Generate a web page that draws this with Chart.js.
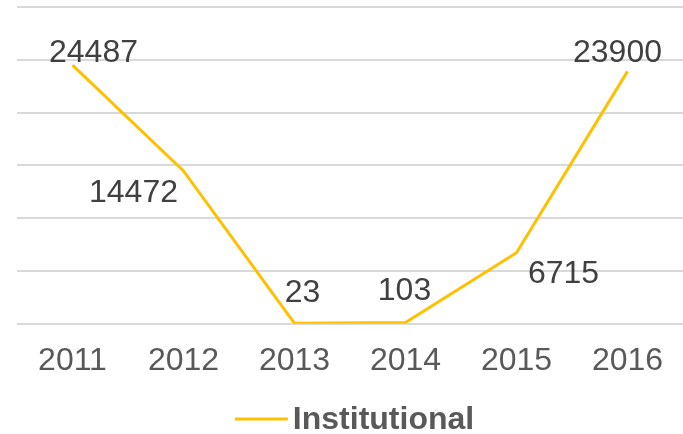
<!DOCTYPE html>
<html>
<head>
<meta charset="utf-8">
<script src="https://cdn.jsdelivr.net/npm/chart.js@4/dist/chart.umd.min.js"></script>
<style>
    html, body { margin: 0; padding: 0; background: #ffffff; }
    #wrap { width: 683px; height: 434px; position: relative; }
</style>
</head>
<body>
<div id="wrap"><canvas id="chartCanvas"></canvas></div>
<script>
// ---------- Data ----------
const years = ["2011", "2012", "2013", "2014", "2015", "2016"];
const institutional = [24487, 14472, 23, 103, 6715, 23900];
const seriesName = "Institutional";

// where each value label sits relative to its point (dx, baseline dy)
const labelOffsets = [[21, -3], [-50, 31], [8, -21], [-1, -23], [47, 30], [-10, -9]];

const LINE_COLOR = "#FFC000";
const FONT = "'Liberation Sans', Arial, sans-serif";

// ---------- Value labels ----------
const valueLabels = {
    id: "valueLabels",
    afterDatasetsDraw(chart) {
        const ctx = chart.ctx;
        const meta = chart.getDatasetMeta(0);
        ctx.save();
        ctx.font = "32px " + FONT;
        ctx.fillStyle = "#404040";
        ctx.textAlign = "center";
        ctx.textBaseline = "alphabetic";
        meta.data.forEach((pt, i) => {
            const off = labelOffsets[i];
            ctx.fillText(String(institutional[i]), pt.x + off[0], pt.y + off[1]);
        });
        ctx.restore();
    }
};

// ---------- Legend (line + bold name) ----------
const bottomLegend = {
    id: "bottomLegend",
    afterDraw(chart) {
        const ctx = chart.ctx;
        const ds = chart.data.datasets[0];
        ctx.save();
        ctx.font = "bold 32px " + FONT;
        const textW = ctx.measureText(ds.label).width;
        const lineW = 53, gap = 5;
        const total = lineW + gap + textW;
        const x0 = (chart.width - total) / 2 + 13;
        const y = chart.height - 15;
        ctx.strokeStyle = ds.borderColor;
        ctx.lineWidth = 3;
        ctx.beginPath();
        ctx.moveTo(x0, y);
        ctx.lineTo(x0 + lineW, y);
        ctx.stroke();
        ctx.fillStyle = "#595959";
        ctx.textAlign = "left";
        ctx.textBaseline = "middle";
        ctx.fillText(ds.label, x0 + lineW + gap, y + 1);
        ctx.restore();
    }
};

// ---------- Chart ----------
const ctx = document.getElementById("chartCanvas").getContext("2d");
new Chart(ctx, {
    type: "line",
    data: {
        labels: years,
        datasets: [{
            label: seriesName,
            data: institutional,
            borderColor: LINE_COLOR,
            backgroundColor: LINE_COLOR,
            borderWidth: 3,
            pointRadius: 0,
            tension: 0,
            fill: false
        }]
    },
    options: {
        responsive: true,
        maintainAspectRatio: false,
        animation: false,
        layout: { padding: { left: 17, right: 0, top: 7, bottom: 36 } },
        plugins: {
            legend: { display: false },
            tooltip: { enabled: false }
        },
        scales: {
            x: {
                offset: true,
                grid: { display: false, drawTicks: false },
                border: { display: false },
                ticks: {
                    color: "#595959",
                    font: { family: FONT, size: 32 },
                    padding: 18,
                    maxRotation: 0
                }
            },
            y: {
                min: 0,
                max: 30000,
                ticks: { display: false, stepSize: 5000 },
                grid: { color: "#d9d9d9", lineWidth: 2, drawTicks: false },
                border: { display: false },
                afterFit(scale) { scale.width = 0; }
            }
        }
    },
    plugins: [valueLabels, bottomLegend]
});
</script>
</body>
</html>
